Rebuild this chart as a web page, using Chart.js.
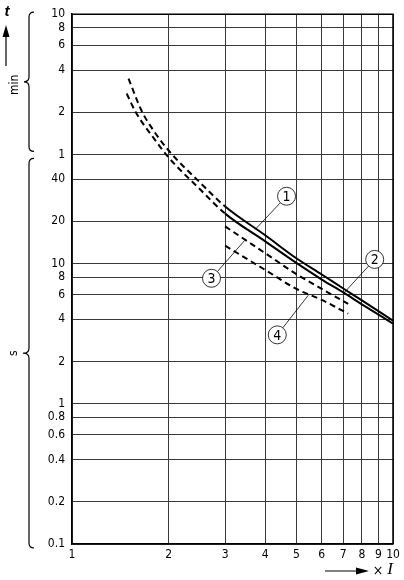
<!DOCTYPE html>
<html>
<head>
<meta charset="utf-8">
<script src="https://cdn.jsdelivr.net/npm/chart.js@4.4.1/dist/chart.umd.min.js"></script>
<style>
  body { margin: 0; background: #fff; }
  canvas { display: block; }
</style>
</head>
<body>
<canvas id="chart" width="404" height="580"></canvas>
<script>
// multiples of rated current
const xTicks = [1, 2, 3, 4, 5, 6, 7, 8, 9, 10];
// tripping time in seconds (upper part of the axis is labelled in minutes)
const yTicks = [0.1, 0.2, 0.4, 0.6, 0.8, 1, 2, 4, 6, 8, 10, 20, 40, 60, 120, 240, 360, 480, 600];
const yTickLabels = ['0.1', '0.2', '0.4', '0.6', '0.8', '1', '2', '4', '6', '8', '10', '20', '40', '1', '2', '4', '6', '8', '10'];

// curve 1 and 2 are dashed below 3 x I
const curve1X = [1.5, 1.65, 1.8, 2, 2.5, 3, 4, 5, 6, 7, 8, 10];
const curve1Y = [208, 122, 88, 64, 38, 25.5, 15.9, 10.9, 8.35, 6.64, 5.46, 3.91];
const curve2X = [1.48, 1.58, 1.8, 2, 2.5, 3, 4, 5, 6, 7, 8, 10];
const curve2Y = [163, 120, 78, 57, 34, 22.7, 14.4, 10.1, 7.69, 6.22, 5.12, 3.73];
const curve3X = [3, 4, 5, 6, 7.25];
const curve3Y = [18.4, 11.85, 8.4, 6.6, 5.15];
const curve4X = [3, 4, 5, 6, 7.25];
const curve4Y = [13.4, 9.0, 6.6, 5.5, 4.39];

// circled curve numbers and the point each leader line goes to
const markNames = ['1', '2', '3', '4'];
const markX = [4.66, 8.77, 2.72, 4.36];
const markY = [30.2, 10.7, 7.85, 3.10];
const leaderX = [3.72, 7.0, 3.45, 5.45];
const leaderY = [17.5, 6.1, 14.6, 5.95];

const FONT = '"Liberation Sans Narrow", "DejaVu Sans Condensed", sans-serif';

function points(xs, ys) {
    return xs.map((x, i) => ({ x: x, y: ys[i] }));
}

function brace(ctx, x, y1, y2, tipX) {
    const ym = (y1 + y2) / 2;
    ctx.beginPath();
    ctx.moveTo(x + 5, y1);
    ctx.quadraticCurveTo(x, y1, x, y1 + 5);
    ctx.lineTo(x, ym - 5);
    ctx.quadraticCurveTo(x, ym, tipX, ym);
    ctx.quadraticCurveTo(x, ym, x, ym + 5);
    ctx.lineTo(x, y2 - 5);
    ctx.quadraticCurveTo(x, y2, x + 5, y2);
    ctx.stroke();
}

const decorations = {
    id: 'decorations',
    afterDraw(chart) {
        const ctx = chart.ctx;
        const xs = chart.scales.x, ys = chart.scales.y;
        const a = chart.chartArea;
        ctx.save();

        // frame top and right
        ctx.strokeStyle = '#000';
        ctx.lineWidth = 1.5;
        ctx.beginPath();
        ctx.moveTo(a.left, a.top);
        ctx.lineTo(a.right, a.top);
        ctx.lineTo(a.right, a.bottom);
        ctx.stroke();

        // circled numbers with leader lines
        const r = 9;
        ctx.lineWidth = 0.8;
        ctx.font = '14px ' + FONT;
        ctx.textAlign = 'center';
        ctx.textBaseline = 'middle';
        markNames.forEach((name, i) => {
            const cx = xs.getPixelForValue(markX[i]);
            const cy = ys.getPixelForValue(markY[i]);
            const tx = xs.getPixelForValue(leaderX[i]);
            const ty = ys.getPixelForValue(leaderY[i]);
            const d = Math.hypot(tx - cx, ty - cy);
            ctx.beginPath();
            ctx.moveTo(cx + (tx - cx) * r / d, cy + (ty - cy) * r / d);
            ctx.lineTo(tx, ty);
            ctx.stroke();
            ctx.fillStyle = '#fff';
            ctx.beginPath();
            ctx.arc(cx, cy, r, 0, Math.PI * 2);
            ctx.fill();
            ctx.stroke();
            ctx.fillStyle = '#000';
            ctx.fillText(name, cx, cy + 1);
        });

        // y axis: t arrow, braces for min and s
        ctx.lineWidth = 1.2;
        ctx.font = 'italic bold 15px "Liberation Sans", sans-serif';
        ctx.fillText('t', 7, 12);
        ctx.beginPath();
        ctx.moveTo(6, 66);
        ctx.lineTo(6, 34);
        ctx.stroke();
        ctx.beginPath();
        ctx.moveTo(6, 25);
        ctx.lineTo(2.5, 37);
        ctx.lineTo(9.5, 37);
        ctx.closePath();
        ctx.fill();

        const yMinTop = ys.getPixelForValue(600) - 2;
        const yMinBottom = ys.getPixelForValue(60) - 3;
        const ySecTop = ys.getPixelForValue(60) + 4;
        const ySecBottom = ys.getPixelForValue(0.1) + 4;
        brace(ctx, 29, yMinTop, yMinBottom, 24);
        brace(ctx, 29, ySecTop, ySecBottom, 23);

        ctx.font = '12px ' + FONT;
        ctx.save();
        ctx.translate(15, (yMinTop + yMinBottom) / 2 + 3);
        ctx.rotate(-Math.PI / 2);
        ctx.fillText('min', 0, 0);
        ctx.restore();
        ctx.save();
        ctx.translate(14, (ySecTop + ySecBottom) / 2);
        ctx.rotate(-Math.PI / 2);
        ctx.fillText('s', 0, 0);
        ctx.restore();

        // x axis arrow and label
        ctx.beginPath();
        ctx.moveTo(325, 571);
        ctx.lineTo(360, 571);
        ctx.stroke();
        ctx.beginPath();
        ctx.moveTo(369, 571);
        ctx.lineTo(356, 567.5);
        ctx.lineTo(356, 574.5);
        ctx.closePath();
        ctx.fill();
        ctx.font = '14px ' + FONT;
        ctx.fillText('\u00d7', 378, 571);
        ctx.font = 'italic 17px "Liberation Serif", serif';
        ctx.fillText('I', 390, 570);
        ctx.restore();
    }
};

const solid = { borderColor: '#000', borderWidth: 2, pointRadius: 0, fill: false, cubicInterpolationMode: 'monotone' };

new Chart(document.getElementById('chart'), {
    type: 'line',
    data: {
        datasets: [
            Object.assign({ data: points(curve1X, curve1Y),
                segment: { borderDash: c => c.p1.parsed.x <= 3 ? [6, 4] : undefined } }, solid),
            Object.assign({ data: points(curve2X, curve2Y),
                segment: { borderDash: c => c.p1.parsed.x <= 3 ? [6, 4] : undefined } }, solid),
            Object.assign({ data: points(curve3X, curve3Y), borderDash: [6, 4] }, solid),
            Object.assign({ data: points(curve4X, curve4Y), borderDash: [6, 4] }, solid)
        ]
    },
    options: {
        responsive: false,
        animation: false,
        layout: { padding: { top: 10, right: 11, left: 0, bottom: 0 } },
        plugins: { legend: { display: false }, tooltip: { enabled: false } },
        scales: {
            x: {
                type: 'logarithmic',
                min: 1,
                max: 10,
                afterBuildTicks: s => { s.ticks = xTicks.map(v => ({ value: v })); },
                afterFit: s => { s.height = 36; },
                ticks: {
                    autoSkip: false,
                    maxRotation: 0,
                    padding: 4,
                    color: '#000',
                    font: { family: FONT, size: 12 },
                    callback: (v, i) => String(xTicks[i])
                },
                grid: { color: '#3a3a3a', lineWidth: 1, drawTicks: false },
                border: { color: '#000', width: 1.5 }
            },
            y: {
                type: 'logarithmic',
                min: 0.1,
                max: 600,
                afterBuildTicks: s => { s.ticks = yTicks.map(v => ({ value: v })); },
                afterFit: s => { s.width = 72; },
                ticks: {
                    autoSkip: false,
                    padding: 7,
                    color: '#000',
                    font: { family: FONT, size: 12 },
                    callback: (v, i) => yTickLabels[i]
                },
                grid: { color: '#3a3a3a', lineWidth: 1, drawTicks: false },
                border: { color: '#000', width: 1.5 }
            }
        }
    },
    plugins: [decorations]
});
</script>
</body>
</html>
